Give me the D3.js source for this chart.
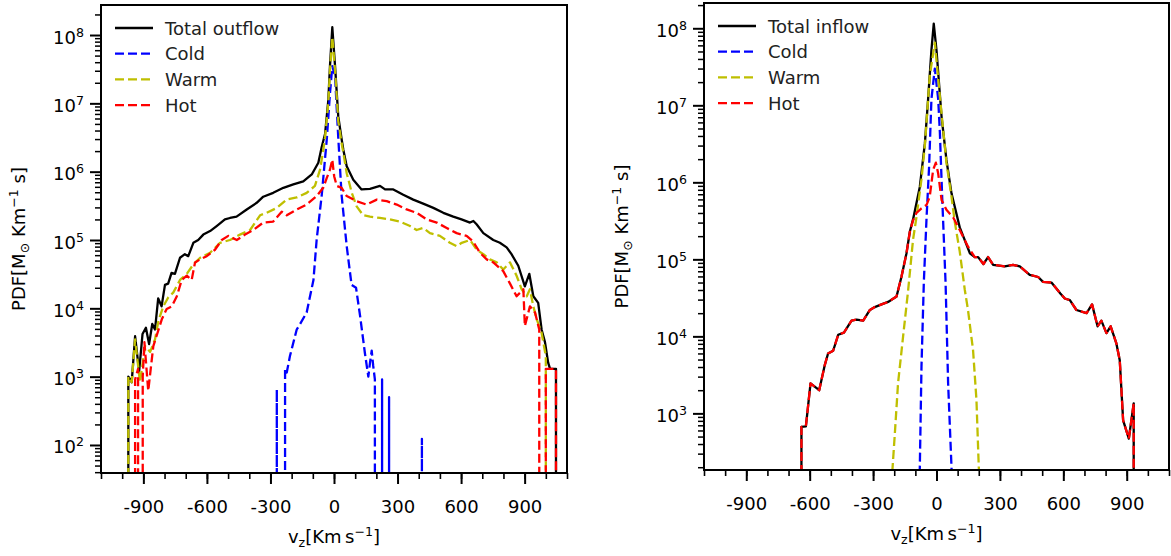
<!DOCTYPE html>
<html>
<head>
<meta charset="utf-8">
<script src="https://cdn.jsdelivr.net/npm/d3@7"></script>
<style>
	body { margin: 0; background: #fff; }
	svg { display: block; font-family: "DejaVu Sans", sans-serif; }
</style>
</head>
<body>
<svg id="chart" width="1171" height="556"></svg>
<script>
// Velocity axis ticks (km/s)
var xMajorTicks = [-900, -600, -300, 0, 300, 600, 900];
var xMinorTicks = [-1100, -1000, -900, -800, -700, -600, -500, -400, -300, -200, -100, 0,
	100, 200, 300, 400, 500, 600, 700, 800, 900, 1000, 1100];
var vRange = [-1100, 1100];

// Legend labels
var outflowLegend = ["Total outflow", "Cold", "Warm", "Hot"];
var inflowLegend = ["Total inflow", "Cold", "Warm", "Hot"];

// PDF ranges of the two panels
var outflowPdfRange = [38.9, 2.75e8];
var inflowPdfRange = [184, 2.13e8];

// Outflow series: [v_z, PDF]  (0 = empty bin)
var outflowTotal = [[-990,0],[-971,1.0e3],[-955,8.3e2],[-939,3.9e3],[-920,1.2e3],[-904,4.2e3],[-888,5.2e3],[-873,3.0e3],[-858,5.9e3],[-845,4.9e3],[-830,1.4e4],[-814,1.07e4],[-798,2.2e4],[-783,2.3e4],[-767,3.3e4],[-751,3.2e4],[-727,5.5e4],[-704,6.2e4],[-688,5.8e4],[-664,9.1e4],[-641,1.0e5],[-617,1.2e5],[-585,1.35e5],[-554,1.6e5],[-515,2.0e5],[-491,2.1e5],[-460,2.2e5],[-412,2.8e5],[-365,3.5e5],[-334,4.3e5],[-287,4.9e5],[-239,5.8e5],[-192,6.5e5],[-145,7.2e5],[-105,9.1e5],[-74,1.35e6],[-58,2.3e6],[-42,3.6e6],[-27,1.1e7],[-19,3.5e7],[-8,1.3e8],[5,3.5e7],[20,6.5e6],[36,3.0e6],[44,2.1e6],[60,1.2e6],[91,7.6e5],[130,5.5e5],[170,5.6e5],[217,6.2e5],[241,5.5e5],[280,5.5e5],[327,4.6e5],[374,3.9e5],[421,3.4e5],[469,2.95e5],[516,2.5e5],[563,2.2e5],[602,2.0e5],[642,1.8e5],[658,1.9e5],[673,1.7e5],[705,1.26e5],[752,1.0e5],[783,9.1e4],[815,7.8e4],[838,6.2e4],[870,4.2e4],[901,2.1e4],[922,3.2e4],[941,1.5e4],[964,1.2e4],[980,4.9e3],[996,3.2e3],[1011,1.6e3],[1020,1.3e3],[1048,1.3e3],[1070,0]];
var outflowCold = [[-290,0],[-270,6.5e2],[-250,0],[-231,1.3e3],[-223,1.15e3],[-208,2.0e3],[-176,4.9e3],[-160,5.9e3],[-129,8.7e3],[-97,2.6e4],[-82,1.0e5],[-58,4.5e5],[-34,3.0e6],[-19,1.4e7],[-8,3.5e7],[5,2.5e7],[20,3.2e6],[36,4.5e5],[60,8.1e4],[83,2.2e4],[104,2.0e4],[123,7.8e3],[146,2.2e3],[162,1.0e3],[170,1.6e3],[178,2.4e3],[185,1.45e3],[193,9.1e2],[210,0],[227,9.1e2],[244,0],[260,5.0e2],[280,0],[400,0],[415,1.23e2],[430,0]];
var outflowWarm = [[-990,0],[-971,1.0e3],[-955,8.3e2],[-939,3.5e3],[-916,8.3e2],[-892,2.8e3],[-868,2.3e3],[-845,3.5e3],[-829,6.5e3],[-806,1.07e4],[-782,1.45e4],[-759,1.7e4],[-727,2.6e4],[-695,3.2e4],[-664,4.4e4],[-632,5.5e4],[-585,6.5e4],[-538,9.1e4],[-491,1.0e5],[-444,1.2e5],[-396,1.4e5],[-349,2.3e5],[-318,2.5e5],[-270,2.95e5],[-223,3.9e5],[-176,4.2e5],[-129,4.9e5],[-90,6.2e5],[-66,1.07e6],[-53,1.86e6],[-42,3.2e6],[-27,1.0e7],[-19,3.0e7],[-8,9.3e7],[5,3.0e7],[20,5.5e6],[36,2.6e6],[44,1.9e6],[60,9.5e5],[84,4.9e5],[107,3.1e5],[138,2.3e5],[170,2.2e5],[217,2.1e5],[264,2.0e5],[312,1.86e5],[359,1.6e5],[390,1.4e5],[421,1.5e5],[453,1.26e5],[500,1.15e5],[547,9.1e4],[579,8.1e4],[603,9.1e4],[642,1.0e5],[674,7.2e4],[705,6.2e4],[736,5.2e4],[768,4.7e4],[799,3.7e4],[831,4.7e4],[862,3.0e4],[886,1.9e4],[910,1.5e4],[925,1.9e4],[941,1.07e4],[957,6.9e3],[980,4.4e3],[1000,2.0e3],[1020,0]];
var outflowHot = [[-955,0],[-939,9.1e2],[-925,1.3e3],[-915,0],[-903,1.0e3],[-895,3.2e3],[-877,6.2e2],[-853,2.8e3],[-837,4.0e3],[-813,6.9e3],[-790,9.8e3],[-766,1.07e4],[-742,1.5e4],[-719,2.6e4],[-695,3.0e4],[-672,2.6e4],[-656,4.7e4],[-632,5.2e4],[-601,5.8e4],[-562,7.2e4],[-530,1.0e5],[-499,1.15e5],[-459,1.0e5],[-420,1.2e5],[-381,1.4e5],[-334,1.8e5],[-287,1.86e5],[-247,2.6e5],[-223,2.3e5],[-176,2.8e5],[-129,3.3e5],[-82,4.4e5],[-51,5.8e5],[-34,8.1e5],[-19,1.07e6],[-8,1.5e6],[1,8.5e5],[13,6.2e5],[36,5.8e5],[60,4.4e5],[107,3.7e5],[154,3.3e5],[202,3.9e5],[249,3.7e5],[296,3.3e5],[343,2.8e5],[390,2.5e5],[438,2.0e5],[485,1.8e5],[532,1.5e5],[579,1.26e5],[626,1.15e5],[657,9.5e4],[689,6.5e4],[721,5.2e4],[752,4.7e4],[799,3.5e4],[831,2.3e4],[862,1.5e4],[894,1.9e4],[901,5.5e3],[925,1.07e4],[949,8.7e3],[969,4.9e3],[985,0],[1000,1.3e3],[1048,1.3e3],[1070,0]];

// Inflow series: [v_z, PDF]
var inflowTotal = [[-660,0],[-639,6.7e2],[-618,6.8e2],[-596,2.45e3],[-555,2.0e3],[-528,4.3e3],[-513,6.0e3],[-489,6.5e3],[-465,1.05e4],[-438,1.12e4],[-402,1.6e4],[-378,1.65e4],[-347,1.6e4],[-315,2.2e4],[-292,2.4e4],[-260,2.6e4],[-229,2.8e4],[-189,3.3e4],[-166,5.9e4],[-142,1.2e5],[-126,2.3e5],[-111,3.3e5],[-79,8.7e5],[-55,3.2e6],[-40,1.17e7],[-24,5.2e7],[-13,1.15e8],[0,5.2e7],[24,7.1e6],[47,1.95e6],[71,7.2e5],[110,2.6e5],[158,1.2e5],[181,1.07e5],[197,1.07e5],[222,8.7e4],[244,1.07e5],[268,8.5e4],[323,8.1e4],[362,8.5e4],[394,8.1e4],[441,6.3e4],[481,5.9e4],[504,5.1e4],[544,5.0e4],[586,3.6e4],[607,3.1e4],[631,2.95e4],[662,2.2e4],[710,2.0e4],[736,2.6e4],[762,1.35e4],[780,1.6e4],[804,1.1e4],[824,1.35e4],[851,8.1e3],[867,4.9e3],[883,8.1e2],[910,4.7e2],[933,1.35e3],[950,0]];
var inflowCold = [[-88,50],[-79,1.95e2],[-71,4.1e3],[-60,5.0e4],[-47,3.5e5],[-35,1.6e6],[-24,1.2e7],[-8,3.0e7],[8,1.2e7],[16,4.4e6],[27,6.3e5],[43,4.9e4],[55,2.45e3],[71,2.0e2],[80,50]];
var inflowWarm = [[-220,80],[-208,1.95e2],[-197,5.5e2],[-182,2.45e3],[-158,1.0e4],[-134,4.0e4],[-111,1.8e5],[-95,3.5e5],[-71,1.1e6],[-55,3.0e6],[-32,2.4e7],[-8,6.5e7],[16,1.3e7],[47,1.8e6],[71,6.5e5],[87,3.0e5],[110,1.26e5],[134,4.0e4],[149,2.2e4],[173,6.6e3],[189,1.5e3],[200,2.0e2],[212,80]];
var inflowHot = [[-660,0],[-639,6.7e2],[-618,6.8e2],[-596,2.45e3],[-555,2.0e3],[-528,4.3e3],[-513,6.0e3],[-489,6.5e3],[-465,1.05e4],[-438,1.12e4],[-402,1.6e4],[-378,1.65e4],[-347,1.6e4],[-315,2.2e4],[-292,2.4e4],[-260,2.6e4],[-229,2.8e4],[-189,3.3e4],[-166,5.9e4],[-142,1.2e5],[-126,2.3e5],[-111,3.2e5],[-95,4.0e5],[-71,4.6e5],[-47,5.1e5],[-32,6.5e5],[-16,1.45e6],[-3,1.8e6],[8,1.3e6],[24,5.9e5],[47,4.4e5],[79,3.5e5],[110,2.4e5],[150,1.45e5],[181,1.07e5],[197,1.07e5],[222,8.7e4],[244,1.07e5],[268,8.5e4],[323,8.1e4],[362,8.5e4],[394,8.1e4],[441,6.3e4],[481,5.9e4],[504,5.1e4],[544,5.0e4],[586,3.6e4],[607,3.1e4],[631,2.95e4],[662,2.2e4],[710,2.0e4],[736,2.6e4],[762,1.35e4],[780,1.6e4],[804,1.1e4],[824,1.35e4],[851,8.1e3],[867,4.9e3],[883,8.1e2],[910,4.7e2],[933,1.35e3],[950,0]];

// Line styles: total, cold, warm, hot
var styles = [
	{ color: "#000000", dash: null },
	{ color: "#0000ff", dash: "9,4" },
	{ color: "#bfbf00", dash: "9,4" },
	{ color: "#ff0000", dash: "9,4" }
];

var svg = d3.select("#chart");
var defs = svg.append("defs");

function drawPanel(id, box, pdfRange, legendLabels, series) {
	var x = d3.scaleLinear().domain(vRange).range([box.left, box.right]);
	var y = d3.scaleLog().domain(pdfRange).range([box.bottom, box.top]);

	defs.append("clipPath").attr("id", id)
		.append("rect")
			.attr("x", box.left).attr("y", box.top)
			.attr("width", box.right - box.left).attr("height", box.bottom - box.top);

	var g = svg.append("g");

	// empty bins fall far below the axis, like matplotlib's log clipping
	var line = d3.line()
		.x(function(d) { return x(d[0]); })
		.y(function(d) { return d[1] > 0 ? y(d[1]) : box.bottom + 1e5; });

	var lines = g.append("g").attr("clip-path", "url(#" + id + ")");
	series.forEach(function(s, i) {
		lines.append("path")
			.datum(s)
			.attr("d", line)
			.attr("fill", "none")
			.attr("stroke", styles[i].color)
			.attr("stroke-width", 2.3)
			.attr("stroke-linejoin", "round")
			.attr("stroke-dasharray", styles[i].dash);
	});

	// X axis, minor then major
	g.append("g")
		.attr("transform", "translate(0," + box.bottom + ")")
		.call(d3.axisBottom(x).tickValues(xMinorTicks).tickSize(6).tickFormat(""))
		.call(function(a) { a.select(".domain").remove(); })
		.selectAll("line").attr("stroke", "#000").attr("stroke-width", 1.6);

	var xa = g.append("g")
		.attr("transform", "translate(0," + box.bottom + ")")
		.call(d3.axisBottom(x).tickValues(xMajorTicks).tickSize(11).tickFormat(function(d) { return String(d); }));
	xa.select(".domain").remove();
	xa.selectAll("line").attr("stroke", "#000").attr("stroke-width", 2);
	xa.selectAll("text")
		.attr("y", 40).attr("dy", null)
		.attr("fill", "#000")
		.style("font-size", "18px")
		.style("font-family", "DejaVu Sans");

	// Y axis, minor then major
	var yAll = y.ticks();
	var yMajor = yAll.filter(function(d) { return Math.abs(Math.log10(d) - Math.round(Math.log10(d))) < 1e-9; });
	var yMinor = yAll.filter(function(d) { return yMajor.indexOf(d) < 0; });

	g.append("g")
		.attr("transform", "translate(" + box.left + ",0)")
		.call(d3.axisLeft(y).tickValues(yMinor).tickSize(6).tickFormat(""))
		.call(function(a) { a.select(".domain").remove(); })
		.selectAll("line").attr("stroke", "#000").attr("stroke-width", 1.5);

	var ya = g.append("g")
		.attr("transform", "translate(" + box.left + ",0)")
		.call(d3.axisLeft(y).tickValues(yMajor).tickSize(11).tickFormat(""));
	ya.select(".domain").remove();
	ya.selectAll("line").attr("stroke", "#000").attr("stroke-width", 2);
	ya.selectAll(".tick text")
		.attr("x", -17).attr("y", 8).attr("dy", null)
		.attr("fill", "#000")
		.attr("text-anchor", "end")
		.style("font-size", "18px")
		.style("font-family", "DejaVu Sans")
		.each(function(d) {
			var t = d3.select(this);
			t.append("tspan").text("10");
			t.append("tspan").attr("dy", -7).style("font-size", "12.6px").text(Math.round(Math.log10(d)));
		});

	// Frame
	g.append("rect")
		.attr("x", box.left).attr("y", box.top)
		.attr("width", box.right - box.left).attr("height", box.bottom - box.top)
		.attr("fill", "none").attr("stroke", "#000").attr("stroke-width", 2);

	// Legend
	var legend = g.selectAll(".legend")
		.data(legendLabels)
		.enter().append("g")
			.attr("class", "legend")
			.attr("transform", function(d, i) { return "translate(" + box.left + "," + (box.top + 23 + i * 25.7) + ")"; });

	legend.append("line")
		.attr("x1", 14).attr("x2", 52)
		.attr("stroke", function(d, i) { return styles[i].color; })
		.attr("stroke-width", 2.3)
		.attr("stroke-dasharray", function(d, i) { return styles[i].dash; });

	legend.append("text")
		.attr("x", 64).attr("y", 6.5)
		.style("font-size", "18px")
		.attr("fill", "#222")
		.text(function(d) { return d; });

	// Axis labels
	var xl = g.append("text")
		.attr("x", (box.left + box.right) / 2).attr("y", box.bottom + 70)
		.attr("text-anchor", "middle")
		.style("font-size", "18px");
	xl.append("tspan").text("v");
	xl.append("tspan").attr("dy", 4).style("font-size", "12.6px").text("z");
	xl.append("tspan").attr("dy", -4).text("[Km\u2009s");
	xl.append("tspan").attr("dy", -7).style("font-size", "12.6px").text("\u22121");
	xl.append("tspan").attr("dy", 7).text("]");

	var yl = g.append("text")
		.attr("transform", "translate(" + (box.left - 76) + "," + ((box.top + box.bottom) / 2) + ") rotate(-90)")
		.attr("text-anchor", "middle")
		.style("font-size", "18px");
	yl.append("tspan").text("PDF[M");
	yl.append("tspan").attr("dy", 4).style("font-size", "12.6px").text("\u2299");
	yl.append("tspan").attr("dy", -4).text(" Km");
	yl.append("tspan").attr("dy", -7).style("font-size", "12.6px").text("\u22121");
	yl.append("tspan").attr("dy", 7).text(" s]");
}

drawPanel("clipOut", { left: 101, right: 567, top: 5, bottom: 473 }, outflowPdfRange, outflowLegend,
	[outflowTotal, outflowCold, outflowWarm, outflowHot]);
drawPanel("clipIn", { left: 704, right: 1169, top: 3, bottom: 470 }, inflowPdfRange, inflowLegend,
	[inflowTotal, inflowCold, inflowWarm, inflowHot]);
</script>
</body>
</html>
